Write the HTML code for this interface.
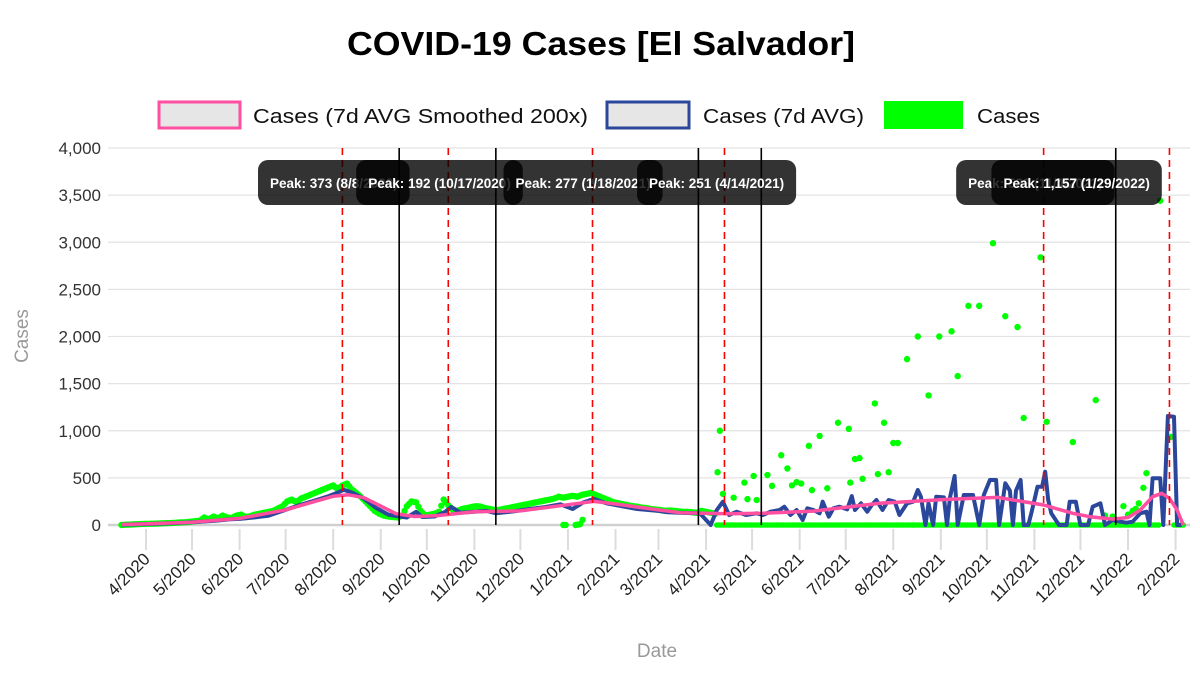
<!DOCTYPE html>
<html><head><meta charset="utf-8">
<style>
body{margin:0;background:#fff;width:1200px;height:670px;overflow:hidden;font-family:"Liberation Sans",sans-serif;}
svg text{font-family:"Liberation Sans",sans-serif;}
</style></head>
<body>
<svg id="chart" width="1200" height="670" xmlns="http://www.w3.org/2000/svg">
<text x="601" y="55" text-anchor="middle" font-size="33" font-weight="bold" fill="#000" textLength="508" lengthAdjust="spacingAndGlyphs">COVID-19 Cases [El Salvador]</text>
<g>
<g>
<rect x="159" y="102" width="81" height="26" fill="#e6e6e6" stroke="#ff4fa0" stroke-width="3"/>
<text x="253" y="123" font-size="20" fill="#111" textLength="335" lengthAdjust="spacingAndGlyphs">Cases (7d AVG Smoothed 200x)</text></g>
<g>
<rect x="607" y="102" width="82" height="26" fill="#e6e6e6" stroke="#2b479b" stroke-width="3"/>
<text x="703" y="123" font-size="20" fill="#111" textLength="161" lengthAdjust="spacingAndGlyphs">Cases (7d AVG)</text></g>
<g>
<rect x="884" y="101" width="79" height="28" fill="#00ff00"/>
<text x="977" y="123" font-size="20" fill="#111" textLength="63" lengthAdjust="spacingAndGlyphs">Cases</text></g>
</g>
<g id="grid"></g>
<g id="yaxis"></g>
<g id="xaxis"></g>
<g id="marks"></g>
<g id="tips"></g>
<text transform="translate(28,336) rotate(-90)" text-anchor="middle" font-size="19" fill="#999">Cases</text>
<text x="657" y="657" text-anchor="middle" font-size="19" fill="#999">Date</text>
</svg>
<script>
// days are counted from 2020-04-01
const yTicks=[0,500,1000,1500,2000,2500,3000,3500,4000];
const xTickLabels=["4/2020","5/2020","6/2020","7/2020","8/2020","9/2020","10/2020","11/2020","12/2020","1/2021","2/2021","3/2021","4/2021","5/2021","6/2021","7/2021","8/2021","9/2021","10/2021","11/2021","12/2021","1/2022","2/2022"];
const xTickDays=[0,30,61,91,122,153,183,214,244,275,306,334,365,395,426,456,487,518,548,579,609,640,671];
const smoothDays=[-16,0,30,61,91,110,122,132,142,153,163,175,190,214,244,275,292,305,334,348,380,402,435,478,522,555,585,604,615,630,640,648,656,662,667,672,676];
const smoothVals=[5,12,30,70,160,250,305,320,290,200,120,90,100,140,150,215,250,225,160,131,120,124,148,230,272,293,212,124,88,63,80,159,300,336,283,159,0];
const avgDays=[-16,-5,0,15,30,45,55,61,70,80,91,100,110,118,125,129,135,142,150,158,165,170,176,180,188,195,199,205,214,222,228,240,250,260,270,278,285,292,300,310,320,334,340,348,361,368,372,376,380,385,391,398,402,407,413,416,420,424,428,431,435,439,441,445,448,452,457,460,462,466,470,473,476,480,484,488,491,496,500,503,505,508,510,513,515,520,522,524,527,529,533,539,543,546,550,554,556,560,563,565,567,570,572,575,577,581,584,586,588,590,595,600,602,606,609,614,617,622,625,630,635,639,643,648,652,654,656,661,663,666,670,672,675];
const avgVals=[3,8,10,18,30,45,60,65,80,100,160,210,260,300,345,373,340,280,180,110,90,80,140,85,90,140,192,130,140,150,125,145,170,190,220,170,240,277,230,200,170,150,135,131,124,0,159,247,106,141,106,124,106,141,159,194,106,159,53,177,159,124,247,88,177,194,166,307,159,230,141,212,265,159,265,247,106,230,247,371,300,0,230,0,300,293,0,293,520,0,318,318,0,318,477,477,0,442,364,0,364,477,0,0,124,406,406,566,265,124,0,0,247,247,0,0,194,230,0,53,35,24,35,124,141,0,495,495,0,1157,1149,0,0];
const caseDays=[-16,-13,-10,-7,-4,-1,2,5,8,11,14,17,20,23,26,29,32,35,38,41,44,47,50,53,56,59,62,65,68,71,74,77,80,83,86,89,92,95,98,101,104,107,110,113,116,119,122,125,128,131,134,137,140,143,146,149,152,155,158,161,164,167,170,173,176,179,182,185,188,191,194,197,200,203,206,209,212,215,218,221,224,227,230,233,236,239,242,245,248,251,254,257,260,263,266,269,272,275,278,281,284,287,290,293,296,299,302,305,308,311,314,317,320,323,326,329,332,335,338,341,344,347,350,353,356,359,362,365,368,371,
374,376,383,390,392,396,398,405,408,414,418,421,424,427,432,434,439,444,451,458,459,462,465,467,475,477,481,484,487,490,496,503,510,517,525,529,536,543,552,560,568,572,583,587,604,619,637,645,647,650,652,661,668,272,280,283,625,630,640,643];
const caseVals=[0,3,5,8,10,12,13,14,16,18,20,22,25,28,30,35,40,45,80,60,90,70,100,80,75,100,110,85,95,110,120,130,140,150,175,200,250,270,240,280,300,320,340,360,380,400,420,380,420,440,380,340,300,250,200,150,120,100,90,85,80,100,200,250,240,150,100,110,120,140,270,210,160,150,170,180,190,200,195,180,170,160,160,170,180,190,200,210,220,230,240,250,260,270,280,300,290,300,310,300,320,330,340,320,300,280,260,240,230,220,210,200,195,185,180,170,165,160,150,155,150,145,140,140,135,130,150,140,130,120,
1000,330,290,450,275,520,265,530,415,740,600,420,455,440,840,370,945,390,1085,1020,450,700,710,490,1290,540,1085,560,870,870,1760,2000,1375,2000,2055,1580,2325,2325,2990,2215,2100,1135,2840,1095,880,1325,200,170,230,395,550,3440,935,0,0,10,100,90,110,150];
const zeroRanges=[[372,660],[670,676]];
const peakDays=[128,197,291,377,585,667];
const troughDays=[165,228,360,401,632];
const tipLabels=["Peak: 373 (8/8/2020)","Peak: 192 (10/17/2020)","Peak: 277 (1/18/2021)","Peak: 251 (4/14/2021)","Peak: 539 (11/4/2021)","Peak: 1,157 (1/29/2022)"];
const tipStartDays=[73,137,233,320,528,551];

const NS="http://www.w3.org/2000/svg";
const X0=108,X1=1190,Y0=525,Y1=148;
function xs(d){return 146+d*1.5344;}
function ys(v){return Y0-(v/4000)*(Y0-Y1);}
function mk(tag,attrs,parent){const e=document.createElementNS(NS,tag);for(const k in attrs)e.setAttribute(k,attrs[k]);parent.appendChild(e);return e;}
const grid=document.getElementById('grid'),yax=document.getElementById('yaxis'),xax=document.getElementById('xaxis'),marks=document.getElementById('marks'),tips=document.getElementById('tips');
yTicks.forEach(t=>{
  const l=mk('line',{x1:X0,x2:X1,y1:ys(t),y2:ys(t),stroke:t===0?'#d0d0d0':'#e3e3e3','stroke-width':t===0?2.5:1.3},grid);
  
  
  const tx=mk('text',{x:101,y:ys(t)+6,'text-anchor':'end','font-size':17,fill:'#333'},yax);
  tx.textContent=t.toLocaleString('en-US');
  
  
});
xTickDays.forEach((d,i)=>{
  const x=xs(d);
  const l=mk('line',{x1:x,x2:x,y1:529,y2:550,stroke:'#dcdcdc','stroke-width':2},xax);
  
  
  const tx=mk('text',{transform:`translate(${x+5},${560}) rotate(-45)`,'text-anchor':'end','font-size':17,fill:'#222'},xax);
  tx.textContent=xTickLabels[i];
  
  
});
const dots=mk('g',{fill:'#00ff00'},marks);


zeroRanges.forEach(r=>{for(let d=r[0];d<=r[1];d+=1.5){const c=mk('circle',{cx:xs(d),cy:ys(0),r:2.8},dots);
  
  }});
caseDays.forEach((d,i)=>{
  const c=mk('circle',{cx:xs(d),cy:ys(caseVals[i]),r:3.2},dots);
  
  
  if(d<372){const c2=mk('circle',{cx:xs(d+1.5),cy:ys((caseVals[i]+(caseVals[i+1]||caseVals[i]))/2),r:3.2},dots);
    
    }
});
function line(days,vals,color,name,w){
  const p=days.map((d,i)=>(i?'L':'M')+xs(d).toFixed(1)+','+ys(vals[i]).toFixed(1)).join('');
  const e=mk('path',{d:p,fill:'none',stroke:color,'stroke-width':w,'stroke-linejoin':'round'},marks);
  
  
}
line(avgDays,avgVals,'#2b479b','avg-7d-line',4);
line(smoothDays,smoothVals,'#ff4fa0','smoothed-line',3.5);
peakDays.forEach(d=>{const l=mk('line',{x1:xs(d),x2:xs(d),y1:Y1,y2:Y0,stroke:'#ff0000','stroke-width':1.6,'stroke-dasharray':'7,5'},marks);
  
  });
troughDays.forEach(d=>{const l=mk('line',{x1:xs(d),x2:xs(d),y1:Y1,y2:Y0,stroke:'#000','stroke-width':1.6},marks);
  
  });
tipLabels.forEach((t,i)=>{
  const g=mk('g',{},tips);
  
  
  const x=xs(tipStartDays[i]);
  const r=mk('rect',{x:x,y:160,width:10,height:45,rx:10,fill:'#000','fill-opacity':0.8},g);
  const tx=mk('text',{x:x+12,y:188,'font-size':13.5,'font-weight':'bold',fill:'#fff'},g);
  tx.textContent=t;
  r.setAttribute('width',tx.getComputedTextLength()+24);
});
</script>
</body></html>
